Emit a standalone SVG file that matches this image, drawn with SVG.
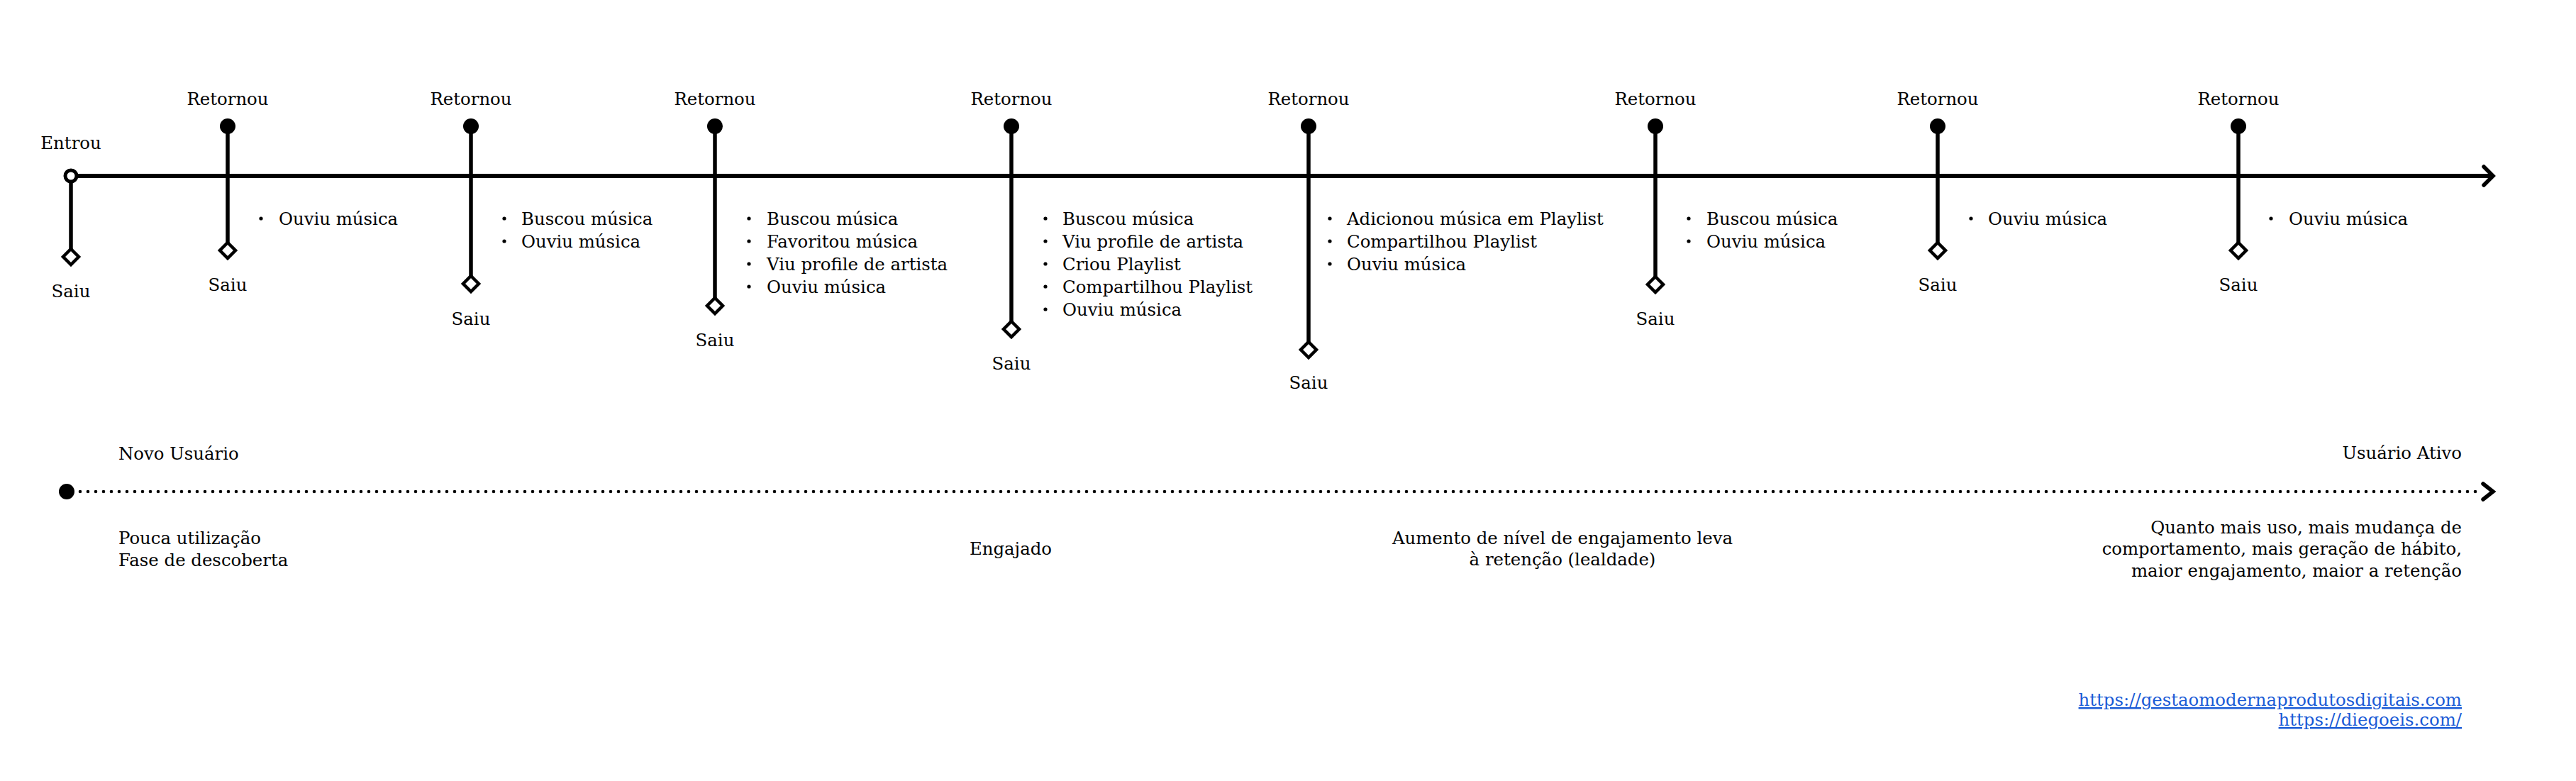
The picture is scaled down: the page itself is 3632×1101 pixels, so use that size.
<svg xmlns="http://www.w3.org/2000/svg" width="3632" height="1101" viewBox="0 0 3632 1101">
<style>
text{font-family:"DejaVu Serif","Liberation Serif",serif;font-size:24.4px;fill:#000}
.c{text-anchor:middle}
.r{text-anchor:end}
.stem{stroke:#000;stroke-width:5.5;fill:none}
.dot{fill:#000}
.dia{fill:#fff;stroke:#000;stroke-width:4.5}
.bul{fill:#000}
.main{stroke:#000;stroke-width:6;fill:none}
.chev{stroke:#000;stroke-width:5.5;fill:none;stroke-linecap:round;stroke-linejoin:miter}
.dots{stroke:#000;stroke-width:4.6;stroke-dasharray:0 11;stroke-linecap:round;fill:none}
.link{fill:#1a5bd6;text-decoration:underline}
</style>
<defs>
<path id="dm" d="M0,-11 L11,0 L0,11 L-11,0 Z"/>
</defs>
<rect width="3632" height="1101" fill="#fff"/>

<g id="connectors">
<line class="main" x1="108" y1="248" x2="3511" y2="248"/>
<polyline class="chev" points="3502,235 3515,248 3502,261"/>
<line class="dots" x1="113" y1="693" x2="3496" y2="693"/>
<polyline class="chev" points="3501,682 3515,693 3501,704"/>
</g>

<g id="n-entrou">
<text class="c" x="100" y="210">Entrou</text>
<line class="stem" x1="100" y1="256" x2="100" y2="351"/>
<circle cx="100" cy="248" r="8" fill="#fff" stroke="#000" stroke-width="5"/>
<use href="#dm" class="dia" x="100" y="362"/>
<text class="c" x="100" y="419">Saiu</text>
</g>

<g id="n-r1">
<text class="c" x="321" y="148">Retornou</text>
<circle class="dot" cx="321" cy="178" r="11"/>
<line class="stem" x1="321" y1="178" x2="321" y2="342"/>
<use href="#dm" class="dia" x="321" y="353"/>
<text class="c" x="321" y="410">Saiu</text>
<circle class="bul" cx="368" cy="308" r="2.6"/>
<text x="393" y="317">Ouviu música</text>
</g>

<g id="n-r2">
<text class="c" x="664" y="148">Retornou</text>
<circle class="dot" cx="664" cy="178" r="11"/>
<line class="stem" x1="664" y1="178" x2="664" y2="389"/>
<use href="#dm" class="dia" x="664" y="400"/>
<text class="c" x="664" y="458">Saiu</text>
<circle class="bul" cx="711" cy="308" r="2.6"/>
<circle class="bul" cx="711" cy="340" r="2.6"/>
<text x="735" y="317">Buscou música</text>
<text x="735" y="349">Ouviu música</text>
</g>

<g id="n-r3">
<text class="c" x="1008" y="148">Retornou</text>
<circle class="dot" cx="1008" cy="178" r="11"/>
<line class="stem" x1="1008" y1="178" x2="1008" y2="420"/>
<use href="#dm" class="dia" x="1008" y="431"/>
<text class="c" x="1008" y="488">Saiu</text>
<circle class="bul" cx="1056" cy="308" r="2.6"/>
<circle class="bul" cx="1056" cy="340" r="2.6"/>
<circle class="bul" cx="1056" cy="372" r="2.6"/>
<circle class="bul" cx="1056" cy="404" r="2.6"/>
<text x="1081" y="317">Buscou música</text>
<text x="1081" y="349">Favoritou música</text>
<text x="1081" y="381">Viu profile de artista</text>
<text x="1081" y="413">Ouviu música</text>
</g>

<g id="n-r4">
<text class="c" x="1426" y="148">Retornou</text>
<circle class="dot" cx="1426" cy="178" r="11"/>
<line class="stem" x1="1426" y1="178" x2="1426" y2="453"/>
<use href="#dm" class="dia" x="1426" y="464"/>
<text class="c" x="1426" y="521">Saiu</text>
<circle class="bul" cx="1474" cy="308" r="2.6"/>
<circle class="bul" cx="1474" cy="340" r="2.6"/>
<circle class="bul" cx="1474" cy="372" r="2.6"/>
<circle class="bul" cx="1474" cy="404" r="2.6"/>
<circle class="bul" cx="1474" cy="436" r="2.6"/>
<text x="1498" y="317">Buscou música</text>
<text x="1498" y="349">Viu profile de artista</text>
<text x="1498" y="381">Criou Playlist</text>
<text x="1498" y="413">Compartilhou Playlist</text>
<text x="1498" y="445">Ouviu música</text>
</g>

<g id="n-r5">
<text class="c" x="1845" y="148">Retornou</text>
<circle class="dot" cx="1845" cy="178" r="11"/>
<line class="stem" x1="1845" y1="178" x2="1845" y2="482"/>
<use href="#dm" class="dia" x="1845" y="493"/>
<text class="c" x="1845" y="548">Saiu</text>
<circle class="bul" cx="1875" cy="308" r="2.6"/>
<circle class="bul" cx="1875" cy="340" r="2.6"/>
<circle class="bul" cx="1875" cy="372" r="2.6"/>
<text x="1899" y="317">Adicionou música em Playlist</text>
<text x="1899" y="349">Compartilhou Playlist</text>
<text x="1899" y="381">Ouviu música</text>
</g>

<g id="n-r6">
<text class="c" x="2334" y="148">Retornou</text>
<circle class="dot" cx="2334" cy="178" r="11"/>
<line class="stem" x1="2334" y1="178" x2="2334" y2="390"/>
<use href="#dm" class="dia" x="2334" y="401"/>
<text class="c" x="2334" y="458">Saiu</text>
<circle class="bul" cx="2381" cy="308" r="2.6"/>
<circle class="bul" cx="2381" cy="340" r="2.6"/>
<text x="2406" y="317">Buscou música</text>
<text x="2406" y="349">Ouviu música</text>
</g>

<g id="n-r7">
<text class="c" x="2732" y="148">Retornou</text>
<circle class="dot" cx="2732" cy="178" r="11"/>
<line class="stem" x1="2732" y1="178" x2="2732" y2="342"/>
<use href="#dm" class="dia" x="2732" y="353"/>
<text class="c" x="2732" y="410">Saiu</text>
<circle class="bul" cx="2779" cy="308" r="2.6"/>
<text x="2803" y="317">Ouviu música</text>
</g>

<g id="n-r8">
<text class="c" x="3156" y="148">Retornou</text>
<circle class="dot" cx="3156" cy="178" r="11"/>
<line class="stem" x1="3156" y1="178" x2="3156" y2="342"/>
<use href="#dm" class="dia" x="3156" y="353"/>
<text class="c" x="3156" y="410">Saiu</text>
<circle class="bul" cx="3202" cy="308" r="2.6"/>
<text x="3227" y="317">Ouviu música</text>
</g>

<g id="n-novo">
<circle class="dot" cx="94" cy="693" r="11"/>
<text x="167" y="648">Novo Usuário</text>
<text x="167" y="767">Pouca utilização</text>
<text x="167" y="798">Fase de descoberta</text>
</g>

<g id="n-engajado">
<text class="c" x="1425" y="782">Engajado</text>
</g>

<g id="n-aumento">
<text class="c" x="2203" y="767">Aumento de nível de engajamento leva</text>
<text class="c" x="2203" y="797">à retenção (lealdade)</text>
</g>

<g id="n-ativo">
<text class="r" x="3471" y="647">Usuário Ativo</text>
<text class="r" x="3471" y="752">Quanto mais uso, mais mudança de</text>
<text class="r" x="3471" y="782">comportamento, mais geração de hábito,</text>
<text class="r" x="3471" y="813">maior engajamento, maior a retenção</text>
</g>

<g id="links">
<text class="r link" x="3471" y="995">https://gestaomodernaprodutosdigitais.com</text>
<text class="r link" x="3471" y="1023">https://diegoeis.com/</text>
</g>
</svg>
